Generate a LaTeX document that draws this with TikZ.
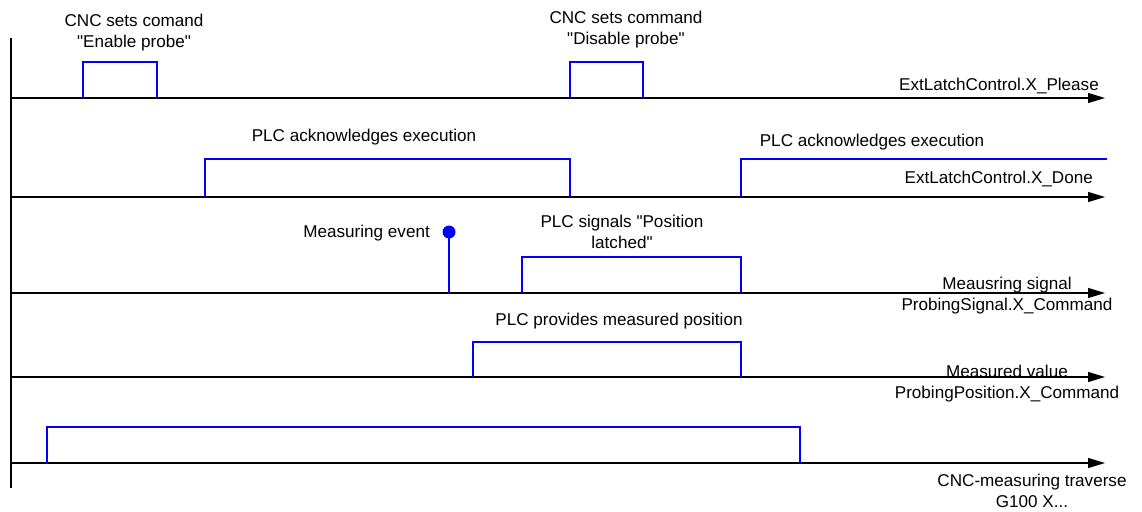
\documentclass[tikz,border=0pt]{standalone}
\usepackage{fontspec}
\setmainfont{Liberation Sans}[Ligatures=TeXOff]
\usetikzlibrary{arrows.meta}
\begin{document}
\begin{tikzpicture}[x=1pt,y=-1pt,
		axisline/.style={line width=1.2pt,-{Triangle[length=17pt,width=10pt]}},
		pulse/.style={blue,line width=1.4pt},
		lbl/.style={font=\fontsize{17.1}{21}\selectfont,inner sep=0pt,align=center}]
	\useasboundingbox (0,0) rectangle (1142,511);
	% time axis
	\coordinate (ttop) at (11,38);
	\coordinate (tbot) at (11,488);
	\draw[line width=1.2pt] (ttop)--(tbot);
	% signal axes
	\coordinate (s1) at (11,98);   \coordinate (e1) at (1105,98);
	\coordinate (s2) at (11,197);  \coordinate (e2) at (1105,197);
	\coordinate (s3) at (11,293);  \coordinate (e3) at (1105,293);
	\coordinate (s4) at (11,377);  \coordinate (e4) at (1105,377);
	\coordinate (s5) at (11,463);  \coordinate (e5) at (1105,463);
	\draw[axisline] (s1)--(e1);
	\draw[axisline] (s2)--(e2);
	\draw[axisline] (s3)--(e3);
	\draw[axisline] (s4)--(e4);
	\draw[axisline] (s5)--(e5);
	% pulses
	\draw[pulse] (83,98) |- (157,62) -- (157,98);
	\draw[pulse] (570,98) |- (643,62) -- (643,98);
	\draw[pulse] (205,197) |- (570,159) -- (570,197);
	\draw[pulse] (741,197) |- (1107,159);
	\draw[pulse] (522,293) |- (741,257) -- (741,293);
	\draw[pulse] (473,377) |- (741,342) -- (741,377);
	\draw[pulse] (47,463) |- (800,427) -- (800,463);
	% measuring event
	\node[circle,fill=blue,inner sep=0pt,minimum size=13pt] (evt) at (449,232) {};
	\coordinate (evtbase) at (449,293);
	\draw[pulse] (evt.center)--(evtbase);
	% labels
	\node[lbl,anchor=north] (enable) at (134,14) {CNC sets comand\\"Enable probe"};
	\node[lbl,anchor=north] (disable) at (626,11) {CNC sets command\\"Disable probe"};
	\node[lbl,anchor=base east] (please) at (1099,90) {ExtLatchControl.X\_Please};
	\node[lbl,anchor=base] (ack1) at (364,141) {PLC acknowledges execution};
	\node[lbl,anchor=base] (ack2) at (872,146) {PLC acknowledges execution};
	\node[lbl,anchor=base east] (done) at (1093,183) {ExtLatchControl.X\_Done};
	\node[lbl,anchor=base east] (event) at (430,237) {Measuring event};
	\node[lbl,anchor=north] (latched) at (622,215) {PLC signals "Position\\latched"};
	\node[lbl,anchor=north] (msig) at (1007,277) {Meausring signal\\ProbingSignal.X\_Command};
	\node[lbl,anchor=base] (provides) at (619,325) {PLC provides measured position};
	\node[lbl,anchor=north] (mval) at (1007,365) {Measured value\\ProbingPosition.X\_Command};
	\node[lbl,anchor=north] (traverse) at (1032,474) {CNC-measuring traverse\\G100 X...};
\end{tikzpicture}
\end{document}
